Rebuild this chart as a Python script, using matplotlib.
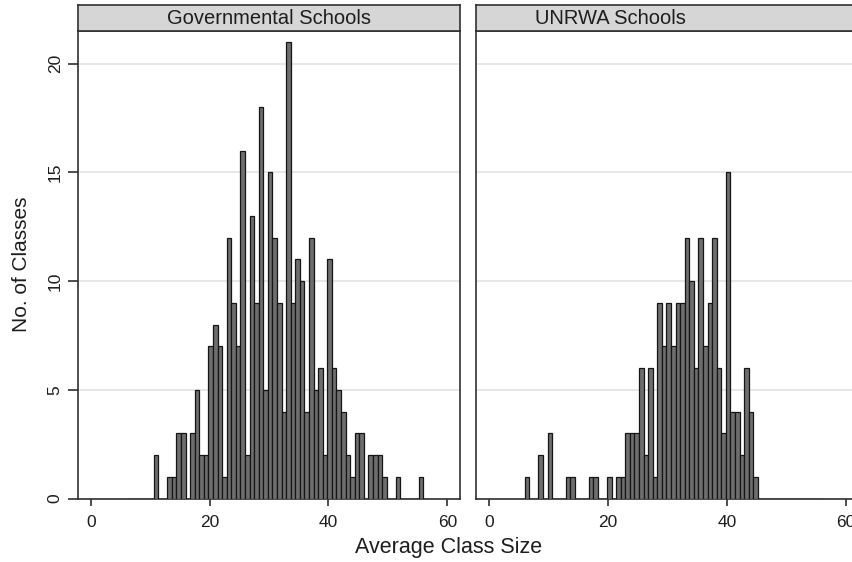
import numpy as np
import matplotlib
matplotlib.use("Agg")
import matplotlib.pyplot as plt

plt.rcParams['font.family'] = ['Liberation Sans', 'DejaVu Sans']

# histogram bins shared by both panels
bin_start = 5.97
bin_width = 0.7692
n_bins = 65

gov_counts = [0, 0, 0, 0, 0, 0,
              2, 0, 0, 1, 1, 3, 3, 0, 3, 5,
              2, 2, 7, 8, 7, 1, 12, 9, 7, 16,
              2, 13, 9, 18, 5, 15, 12, 9, 4, 21,
              9, 11, 10, 4, 12, 5, 6, 2, 11, 6,
              5, 4, 2, 1, 3, 3, 0, 2, 2, 2,
              1, 0, 0, 1, 0, 0, 0, 0, 1]

unrwa_counts = [1, 0, 0, 2, 0, 3, 0, 0, 0, 1,
                1, 0, 0, 0, 1, 1, 0, 0, 1, 0,
                1, 1, 3, 3, 3, 6, 2, 6, 1, 9,
                7, 9, 7, 9, 9, 12, 10, 6, 12, 7,
                9, 12, 6, 3, 15, 4, 4, 2, 6, 4,
                1, 0, 0, 0, 0, 0, 0, 0, 0, 0,
                0, 0, 0, 0, 0]

panel_titles = ["Governmental Schools", "UNRWA Schools"]
x_ticks = [0, 20, 40, 60]
y_ticks = [0, 5, 10, 15, 20]

W, H = 853, 562
fig = plt.figure(figsize=(W / 100, H / 100), dpi=100)
fig.patch.set_facecolor('white')

edges = bin_start + bin_width * np.arange(n_bins)
ink = '#1e1e1e'

for i, (title, counts) in enumerate(zip(panel_titles, [gov_counts, unrwa_counts])):
    left = 78 if i == 0 else 476.5
    ax = fig.add_axes([left / W, (H - 498.5) / H, 382 / W, 467.5 / H])
    ax.bar(edges, counts, width=bin_width, align='edge',
           color='#6e6e6e', edgecolor='#151515', linewidth=0.9, zorder=3)
    ax.set_xlim(-2.14, 62.14)
    ax.set_ylim(0, 21.5)
    ax.set_xticks(x_ticks)
    ax.set_yticks(y_ticks)
    ax.grid(axis='y', color='#e3e3e3', linewidth=1.2, zorder=0)
    ax.tick_params(axis='x', direction='out', length=5, width=1.1,
                   colors=ink, labelsize=12.5, pad=7)
    if i == 0:
        ax.tick_params(axis='y', direction='out', length=7, width=1.1,
                       colors=ink, labelsize=12.5, pad=4)
        for lab in ax.get_yticklabels():
            lab.set_rotation(90)
            lab.set_va('center')
        ax.set_ylabel("No. of Classes", fontsize=15, color=ink, labelpad=12)
    else:
        ax.tick_params(axis='y', left=False, labelleft=False)
    for sp in ax.spines.values():
        sp.set_color('#303030')
        sp.set_linewidth(1.2)

    # panel header strip
    strip = fig.add_axes([left / W, (H - 31) / H, 382 / W, 26 / H])
    strip.set_facecolor('#d6d6d6')
    strip.set_xticks([])
    strip.set_yticks([])
    for sp in strip.spines.values():
        sp.set_color('#303030')
        sp.set_linewidth(1.2)
    strip.text(0.5 if i == 0 else 0.35, 0.5, title, transform=strip.transAxes,
               ha='center', va='center', fontsize=14.5, color=ink)

fig.text(448.5 / W, (H - 548) / H, "Average Class Size",
         ha='center', va='center', fontsize=15.5, color=ink)

fig.savefig('out.png', dpi=100)
